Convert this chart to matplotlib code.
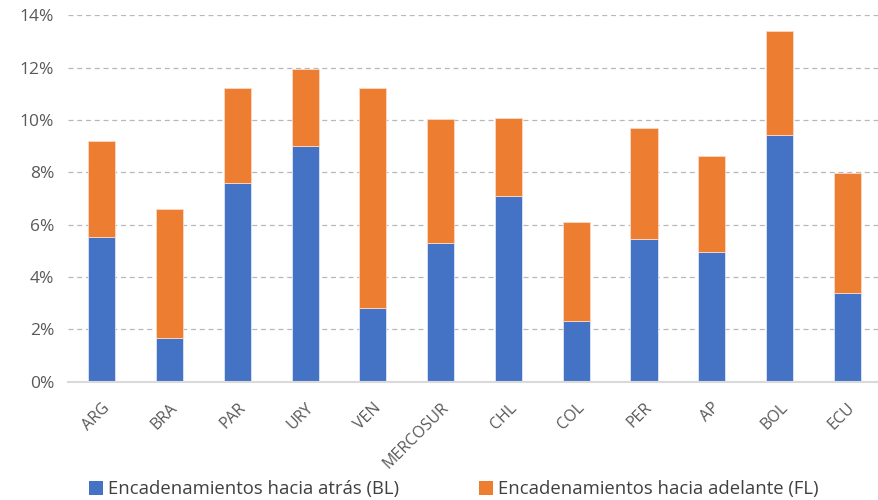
import matplotlib.pyplot as plt
from matplotlib.patches import Patch
from matplotlib.ticker import FuncFormatter

plt.rcParams['font.family'] = ['Open Sans', 'DejaVu Sans']

# Data (shares, %)
countries = ['ARG', 'BRA', 'PAR', 'URY', 'VEN', 'MERCOSUR', 'CHL', 'COL', 'PER', 'AP', 'BOL', 'ECU']
backward = [5.53, 1.66, 7.58, 9.02, 2.82, 5.31, 7.08, 2.31, 5.46, 4.97, 9.44, 3.38]
total = [9.20, 6.59, 11.21, 11.94, 11.22, 10.04, 10.09, 6.09, 9.71, 8.64, 13.40, 7.97]
forward = [t - b for t, b in zip(total, backward)]

blue = '#4472C4'
orange = '#ED7D31'

fig = plt.figure(figsize=(8.79, 5), dpi=100)
ax = fig.add_axes([0.0774, 0.2366, 0.925, 0.7328])

x = range(len(countries))
ax.bar(x, backward, width=0.4, color=blue, edgecolor='#dfe6f5', linewidth=0.6, zorder=3)
ax.bar(x, forward, width=0.4, bottom=backward, color=orange, edgecolor='#fbd9c4',
       linewidth=0.6, zorder=3)

ax.set_xlim(-0.5, len(countries) - 0.5)
ax.set_ylim(0, 14)
ax.set_yticks(range(0, 15, 2))
ax.yaxis.set_major_formatter(FuncFormatter(lambda v, p: f'{int(v)}%'))
ax.grid(axis='y', color='#b8b8b8', linestyle=(0, (4, 3)), linewidth=0.9, zorder=0)

for s in ['top', 'right', 'left']:
    ax.spines[s].set_visible(False)
ax.spines['bottom'].set_color('#d9d9d9')
ax.spines['bottom'].set_linewidth(1.5)
ax.spines['bottom'].set_zorder(4)

ax.tick_params(axis='both', length=0, colors='#595959')
ax.tick_params(axis='y', labelsize=12.5, pad=10)
ax.set_xticks(list(x))
ax.set_xticklabels(countries, rotation=45, ha='right', rotation_mode='anchor', fontsize=11.5)
ax.tick_params(axis='x', pad=13)

handles = [Patch(facecolor=blue), Patch(facecolor=orange)]
labels = ['Encadenamientos hacia atrás (BL)', 'Encadenamientos hacia adelante (FL)']
fig.legend(handles, labels, loc='lower left', bbox_to_anchor=(0.082, -0.03), ncol=2,
           frameon=False, fontsize=13.3, labelcolor='#404040', handlelength=0.8,
           handleheight=0.8, handletextpad=0.25, columnspacing=4.3)

fig.savefig('out.png', dpi=100)
